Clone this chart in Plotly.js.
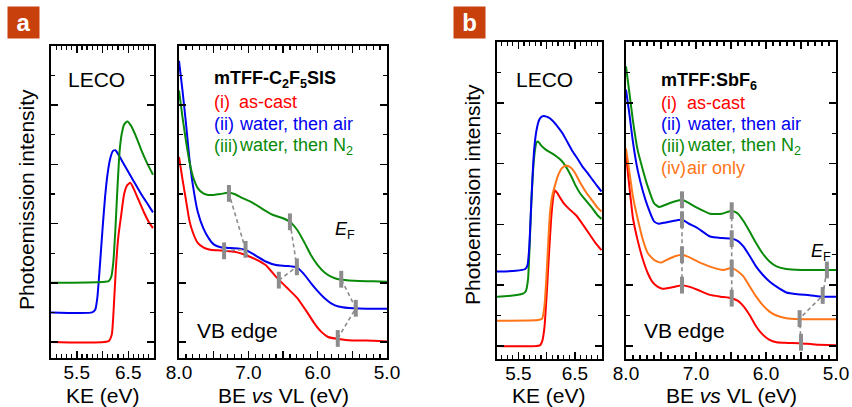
<!DOCTYPE html>
<html><head><meta charset="utf-8">
<script src="https://cdn.plot.ly/plotly-3.0.1.min.js"></script>
<style>html,body{margin:0;padding:0;background:#fff}#chart{width:852px;height:407px}</style>
</head><body><div id="chart"></div>
<script>
// ---------- DATA ----------
// Panel a, LECO (KE, eV)
const aLecoRedX   = [5.0, 6.12, 6.18, 6.22, 6.26, 6.31, 6.36, 6.42, 6.48, 6.54, 6.6, 6.7, 6.8, 6.9, 6.98];
const aLecoRedY   = [0, 0.03, 0.25, 1.2, 2.5, 3.6, 4.25, 5.0, 5.3, 5.38, 5.2, 4.8, 4.4, 4.05, 3.85];
const aLecoBlueX  = [5.0, 5.8, 5.86, 5.9, 5.95, 6.0, 6.05, 6.1, 6.15, 6.2, 6.25, 6.32, 6.45, 6.6, 6.75, 6.9, 6.98];
const aLecoBlueY  = [1.0, 1.0, 1.1, 1.5, 2.6, 3.8, 4.9, 5.7, 6.2, 6.45, 6.48, 6.3, 5.9, 5.45, 5.0, 4.6, 4.38];
const aLecoGreenX = [5.0, 6.0, 6.12, 6.17, 6.21, 6.25, 6.29, 6.33, 6.37, 6.42, 6.48, 6.55, 6.65, 6.75, 6.85, 6.98];
const aLecoGreenY = [2.0, 2.03, 2.06, 2.2, 2.7, 3.8, 5.2, 6.4, 7.0, 7.35, 7.45, 7.32, 6.95, 6.5, 6.1, 5.65];
// Panel a, VB edge (BE vs VL, eV)
const aVbRedX   = [8.0, 7.95, 7.9, 7.85, 7.8, 7.73, 7.65, 7.55, 7.45, 7.35, 7.2, 7.05, 6.9, 6.75, 6.6, 6.45, 6.3, 6.15, 6.05, 5.95, 5.85, 5.7, 5.5, 5.3, 5.0];
const aVbRedY   = [6.25, 5.5, 4.8, 4.1, 3.7, 3.35, 3.2, 3.12, 3.1, 3.08, 3.05, 2.95, 2.8, 2.6, 2.2, 1.85, 1.5, 1.0, 0.64, 0.35, 0.17, 0.1, 0.05, 0.05, 0.02];
const aVbBlueX  = [8.0, 7.95, 7.9, 7.85, 7.8, 7.73, 7.65, 7.57, 7.5, 7.4, 7.3, 7.2, 7.05, 6.9, 6.75, 6.6, 6.45, 6.3, 6.2, 6.1, 6.0, 5.9, 5.8, 5.7, 5.55, 5.4, 5.2, 5.0];
const aVbBlueY  = [9.5, 8.5, 7.4, 6.2, 5.3, 4.4, 3.85, 3.5, 3.3, 3.2, 3.18, 3.17, 3.12, 2.93, 2.72, 2.6, 2.57, 2.52, 2.3, 2.0, 1.72, 1.48, 1.3, 1.2, 1.15, 1.13, 1.12, 1.12];
const aVbGreenX = [8.0, 7.95, 7.9, 7.85, 7.8, 7.73, 7.65, 7.58, 7.5, 7.4, 7.3, 7.2, 7.1, 6.95, 6.8, 6.65, 6.5, 6.4, 6.3, 6.2, 6.1, 6.0, 5.9, 5.8, 5.7, 5.55, 5.4, 5.2, 5.0];
const aVbGreenY = [8.5, 7.6, 6.8, 6.1, 5.6, 5.2, 5.02, 4.97, 4.97, 5.0, 5.04, 5.0, 4.88, 4.72, 4.5, 4.3, 4.18, 4.06, 3.8, 3.4, 2.95, 2.6, 2.35, 2.2, 2.12, 2.08, 2.06, 2.05, 2.04];
// Panel a, gray onset markers (3 groups)
const aMkRedX   = [7.35, 6.56, 5.71], aMkRedY   = [3.08, 2.09, 0.12];
const aMkBlueX  = [7.04, 6.30, 5.45], aMkBlueY  = [3.13, 2.54, 1.14];
const aMkGreenX = [7.28, 6.40, 5.66], aMkGreenY = [5.02, 4.06, 2.12];

// Panel b, LECO
const bLecoRedX    = [5.12, 5.88, 5.92, 5.96, 6.0, 6.04, 6.08, 6.11, 6.14, 6.18, 6.23, 6.3, 6.4, 6.52, 6.62, 6.75, 6.86, 6.97];
const bLecoRedY    = [0, 0.02, 0.15, 0.6, 1.7, 3.0, 4.2, 4.8, 5.12, 5.05, 4.9, 4.7, 4.5, 4.3, 4.05, 3.7, 3.4, 3.15];
const bLecoOrangeX = [5.12, 5.85, 5.92, 5.96, 6.0, 6.03, 6.06, 6.1, 6.15, 6.2, 6.27, 6.34, 6.42, 6.5, 6.6, 6.7, 6.8, 6.9, 6.97];
const bLecoOrangeY = [0.83, 0.85, 0.9, 1.3, 2.4, 3.5, 4.4, 4.95, 5.3, 5.6, 5.85, 5.94, 5.88, 5.7, 5.35, 5.05, 4.8, 4.55, 4.42];
const bLecoGreenX  = [5.12, 5.4, 5.58, 5.63, 5.67, 5.7, 5.73, 5.76, 5.79, 5.82, 5.85, 5.9, 5.99, 6.08, 6.17, 6.26, 6.34, 6.43, 6.52, 6.6, 6.69, 6.8, 6.9, 6.97];
const bLecoGreenY  = [1.62, 1.66, 1.72, 1.8, 2.2, 3.4, 4.8, 5.8, 6.4, 6.7, 6.72, 6.6, 6.45, 6.35, 6.24, 6.1, 5.9, 5.6, 5.25, 5.0, 4.8, 4.55, 4.3, 4.18];
const bLecoBlueX   = [5.12, 5.45, 5.62, 5.66, 5.69, 5.72, 5.75, 5.78, 5.82, 5.87, 5.92, 5.97, 6.03, 6.11, 6.2, 6.28, 6.37, 6.46, 6.55, 6.63, 6.72, 6.81, 6.9, 6.97];
const bLecoBlueY   = [2.45, 2.47, 2.53, 2.65, 3.2, 4.4, 5.6, 6.5, 7.1, 7.45, 7.55, 7.56, 7.52, 7.4, 7.2, 7.0, 6.7, 6.4, 6.15, 5.91, 5.7, 5.47, 5.25, 5.08];
// Panel b, VB edge
const bVbRedX    = [8.0, 7.95, 7.9, 7.835, 7.76, 7.69, 7.62, 7.55, 7.48, 7.41, 7.3, 7.2, 7.1, 6.98, 6.8, 6.65, 6.49, 6.4, 6.32, 6.23, 6.14, 6.05, 5.95, 5.85, 5.7, 5.52, 5.3, 5.0];
const bVbRedY    = [6.3, 5.2, 4.2, 3.49, 2.85, 2.4, 2.1, 1.95, 1.88, 1.9, 1.95, 2.0, 1.95, 1.85, 1.68, 1.62, 1.57, 1.48, 1.3, 1.0, 0.64, 0.38, 0.2, 0.12, 0.1, 0.09, 0.05, 0.02];
const bVbOrangeX = [8.0, 7.95, 7.9, 7.835, 7.76, 7.69, 7.6, 7.5, 7.4, 7.3, 7.2, 7.1, 6.98, 6.8, 6.61, 6.49, 6.4, 6.32, 6.23, 6.14, 6.05, 5.95, 5.85, 5.71, 5.52, 5.3, 5.0];
const bVbOrangeY = [6.5, 5.7, 4.9, 4.2, 3.5, 3.06, 2.83, 2.74, 2.85, 2.95, 3.0, 2.92, 2.78, 2.61, 2.5, 2.56, 2.45, 2.28, 1.95, 1.62, 1.35, 1.13, 1.0, 0.91, 0.88, 0.88, 0.88];
const bVbBlueX   = [8.0, 7.95, 7.9, 7.835, 7.76, 7.69, 7.6, 7.53, 7.46, 7.35, 7.2, 7.1, 6.98, 6.8, 6.63, 6.49, 6.4, 6.32, 6.23, 6.14, 6.05, 5.95, 5.85, 5.71, 5.55, 5.38, 5.19, 5.0];
const bVbBlueY   = [8.43, 7.6, 6.7, 5.8, 5.1, 4.59, 4.1, 4.02, 4.05, 4.1, 4.15, 4.02, 3.88, 3.6, 3.55, 3.53, 3.45, 3.27, 2.95, 2.61, 2.35, 2.12, 1.95, 1.76, 1.7, 1.67, 1.62, 1.62];
const bVbGreenX  = [8.0, 7.95, 7.9, 7.835, 7.76, 7.69, 7.6, 7.53, 7.46, 7.35, 7.2, 7.1, 6.98, 6.8, 6.63, 6.49, 6.4, 6.32, 6.23, 6.14, 6.05, 5.95, 5.85, 5.71, 5.5, 5.3, 5.14, 5.0];
const bVbGreenY  = [9.2, 8.3, 7.4, 6.46, 5.8, 5.25, 4.7, 4.57, 4.62, 4.72, 4.81, 4.7, 4.54, 4.35, 4.35, 4.45, 4.35, 4.1, 3.75, 3.38, 3.05, 2.78, 2.62, 2.53, 2.5, 2.5, 2.5, 2.5];
// Panel b, gray onset markers
const bMkRedX    = [7.20, 6.49, 5.50], bMkRedY    = [2.0, 1.57, 0.12];
const bMkOrangeX = [7.20, 6.49, 5.52], bMkOrangeY = [3.0, 2.56, 0.9];
const bMkBlueX   = [7.20, 6.49, 5.19], bMkBlueY   = [4.15, 3.53, 1.66];
const bMkGreenX  = [7.20, 6.49, 5.13], bMkGreenY  = [4.81, 4.45, 2.5];

// Tick labels
const lecoTickVals = [5.0, 5.5, 6.0, 6.5, 7.0];
const lecoTickText = ['', '5.5', '', '6.5', ''];
const vbTickVals   = [8.0, 7.5, 7.0, 6.5, 6.0, 5.5, 5.0];
const vbTickText   = ['8.0', '', '7.0', '', '6.0', '', '5.0'];

// ---------- STYLE ----------
const RED = '#ff0000', BLUE = '#0000f0', GREEN = '#0a8a0a', ORANGE = '#ff7518', GRAY = '#8c8c8c';
const FONT = 'Liberation Sans, Arial, Helvetica, sans-serif';
const W = 852, H = 407;
const px = v => v / W, py = v => 1 - v / H;

function line(x, y, color, xa, ya) {
  return {x, y, xaxis: xa, yaxis: ya, type: 'scatter', mode: 'lines',
    line: {color, width: 2, shape: 'spline', smoothing: 0.5}, hoverinfo: 'skip'};
}
function marks(x, y, xa, ya) {
  return {x, y, xaxis: xa, yaxis: ya, type: 'scatter', mode: 'markers', hoverinfo: 'skip',
    marker: {symbol: 'line-ns', size: 12, color: GRAY, line: {color: GRAY, width: 4}}};
}
function chain(groups, xa, ya) {
  const x = [], y = [];
  for (let i = 0; i < groups[0][0].length; i++) {
    groups.forEach(g => { x.push(g[0][i]); y.push(g[1][i]); });
    x.push(null); y.push(null);
  }
  return {x, y, xaxis: xa, yaxis: ya, type: 'scatter', mode: 'lines', hoverinfo: 'skip',
    line: {color: GRAY, width: 1.6, dash: '4px,3px'}};
}

const traces = [
  line(aLecoRedX, aLecoRedY, RED, 'x', 'y'),
  line(aLecoBlueX, aLecoBlueY, BLUE, 'x', 'y'),
  line(aLecoGreenX, aLecoGreenY, GREEN, 'x', 'y'),
  line(aVbRedX, aVbRedY, RED, 'x2', 'y2'),
  line(aVbBlueX, aVbBlueY, BLUE, 'x2', 'y2'),
  line(aVbGreenX, aVbGreenY, GREEN, 'x2', 'y2'),
  chain([[aMkRedX, aMkRedY], [aMkBlueX, aMkBlueY], [aMkGreenX, aMkGreenY]], 'x2', 'y2'),
  marks(aMkRedX.concat(aMkBlueX, aMkGreenX), aMkRedY.concat(aMkBlueY, aMkGreenY), 'x2', 'y2'),
  line(bLecoRedX, bLecoRedY, RED, 'x3', 'y3'),
  line(bLecoGreenX, bLecoGreenY, GREEN, 'x3', 'y3'),
  line(bLecoBlueX, bLecoBlueY, BLUE, 'x3', 'y3'),
  line(bLecoOrangeX, bLecoOrangeY, ORANGE, 'x3', 'y3'),
  line(bVbRedX, bVbRedY, RED, 'x4', 'y4'),
  line(bVbOrangeX, bVbOrangeY, ORANGE, 'x4', 'y4'),
  line(bVbBlueX, bVbBlueY, BLUE, 'x4', 'y4'),
  line(bVbGreenX, bVbGreenY, GREEN, 'x4', 'y4'),
  chain([[bMkRedX, bMkRedY], [bMkOrangeX, bMkOrangeY], [bMkBlueX, bMkBlueY], [bMkGreenX, bMkGreenY]], 'x4', 'y4'),
  marks(bMkRedX.concat(bMkOrangeX, bMkBlueX, bMkGreenX), bMkRedY.concat(bMkOrangeY, bMkBlueY, bMkGreenY), 'x4', 'y4')
];

function xax(d0, d1, range, vals, text, anchor) {
  return {domain: [px(d0), px(d1)], range, anchor, tickmode: 'array', tickvals: vals, ticktext: text,
    ticks: 'inside', ticklen: 7, tickwidth: 1.5, tickcolor: '#000', ticklabelstandoff: -4,
    minor: {tickmode: 'linear', tick0: 5.0, dtick: 0.1, ticks: 'inside', ticklen: 4, tickwidth: 1.2, tickcolor: '#000'},
    showline: true, linewidth: 2, linecolor: '#000', mirror: 'ticks', showgrid: false, zeroline: false,
    tickfont: {family: FONT, size: 19, color: '#000'}, fixedrange: true};
}
function yax(t, b, range, anchor) {
  return {domain: [py(b), py(t)], range, anchor, tickmode: 'linear', tick0: 0, dtick: 2,
    ticks: 'inside', ticklen: 7, tickwidth: 1.5, tickcolor: '#000', showticklabels: false,
    minor: {tickmode: 'linear', tick0: 0, dtick: 1, ticks: 'inside', ticklen: 4, tickwidth: 1.2, tickcolor: '#000'},
    showline: true, linewidth: 2, linecolor: '#000', mirror: 'ticks', showgrid: false, zeroline: false, fixedrange: true};
}

function txt(x, y, text, size, color, opts) {
  return Object.assign({xref: 'paper', yref: 'paper', x: px(x), y: py(y), text, showarrow: false,
    xanchor: 'center', yanchor: 'middle', font: {family: FONT, size, color: color || '#000'}}, opts || {});
}

const LEG = 18;
const annotations = [
  // panel labels
  txt(23.5, 22.5, '<b>a</b>', 24, '#fff', {bgcolor: '#c8400c', width: 29, height: 29}),
  txt(469.5, 22.5, '<b>b</b>', 24, '#fff', {bgcolor: '#c8400c', width: 29, height: 29}),
  // y titles
  txt(26, 200, 'Photoemission intensity', 21, '#000', {textangle: -90}),
  txt(472, 195, 'Photoemission intensity', 21, '#000', {textangle: -90}),
  // x titles
  txt(103, 395, 'KE (eV)', 21),
  txt(283, 395, 'BE <i>vs</i> VL (eV)', 21),
  txt(549, 395, 'KE (eV)', 21),
  txt(731, 395, 'BE <i>vs</i> VL (eV)', 21),
  // LECO / VB edge
  txt(96, 80, 'LECO', 21),
  txt(544, 79, 'LECO', 21),
  txt(195, 330, 'VB edge', 21, '#000', {xanchor: 'left'}),
  txt(642, 330, 'VB edge', 21, '#000', {xanchor: 'left'}),
  // E_F
  txt(333, 230, '<i>E</i><sub>F</sub>', 18, '#000', {xanchor: 'left'}),
  txt(809, 252, '<i>E</i><sub>F</sub>', 18, '#000', {xanchor: 'left'}),
  // legend a
  txt(212, 80, '<b>mTFF-C<sub>2</sub>F<sub>5</sub>SIS</b>', LEG, '#000', {xanchor: 'left'}),
  txt(212, 102, '(i)', LEG, RED, {xanchor: 'left'}),
  txt(237, 102, 'as-cast', LEG, RED, {xanchor: 'left'}),
  txt(212, 124, '(ii)', LEG, BLUE, {xanchor: 'left'}),
  txt(237, 124, 'water, then air', LEG, BLUE, {xanchor: 'left'}),
  txt(212, 146, '(iii)', LEG, GREEN, {xanchor: 'left'}),
  txt(237, 146, 'water, then N<sub>2</sub>', LEG, GREEN, {xanchor: 'left'}),
  // legend b
  txt(659, 81, '<b>mTFF:SbF<sub>6</sub></b>', LEG, '#000', {xanchor: 'left'}),
  txt(659, 103, '(i)', LEG, RED, {xanchor: 'left'}),
  txt(685, 103, 'as-cast', LEG, RED, {xanchor: 'left'}),
  txt(659, 124, '(ii)', LEG, BLUE, {xanchor: 'left'}),
  txt(685, 124, 'water, then air', LEG, BLUE, {xanchor: 'left'}),
  txt(659, 146, '(iii)', LEG, GREEN, {xanchor: 'left'}),
  txt(685, 146, 'water, then N<sub>2</sub>', LEG, GREEN, {xanchor: 'left'}),
  txt(659, 168, '(iv)', LEG, ORANGE, {xanchor: 'left'}),
  txt(685, 168, 'air only', LEG, ORANGE, {xanchor: 'left'})
];

const yA = [-0.54, 10.0], yB = [-0.43, 10.0];
const layout = {
  width: W, height: H, margin: {l: 0, r: 0, t: 0, b: 0}, showlegend: false,
  paper_bgcolor: '#fff', plot_bgcolor: 'rgba(0,0,0,0)', font: {family: FONT, color: '#000'},
  xaxis:  xax(51, 154, [5.0, 7.0], lecoTickVals, lecoTickText, 'y'),
  xaxis2: xax(179, 387, [8.0, 5.0], vbTickVals, vbTickText, 'y2'),
  xaxis3: xax(497, 602, [5.12, 6.98], lecoTickVals, lecoTickText, 'y3'),
  xaxis4: xax(626, 836, [8.0, 5.0], vbTickVals, vbTickText, 'y4'),
  yaxis:  yax(46, 358, yA, 'x'),
  yaxis2: yax(46, 358, yA, 'x2'),
  yaxis3: yax(42, 359, yB, 'x3'),
  yaxis4: yax(42, 359, yB, 'x4'),
  annotations
};
Plotly.newPlot('chart', traces, layout, {displayModeBar: false, staticPlot: true});
</script></body></html>
